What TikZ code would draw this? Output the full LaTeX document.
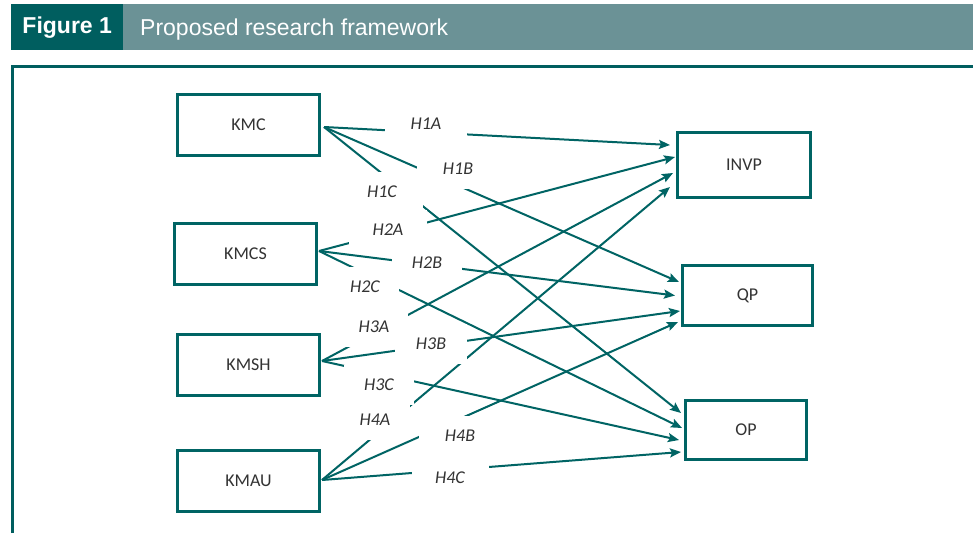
\documentclass[tikz,border=0pt]{standalone}
\usepackage{fontspec}
\setmainfont{Carlito}
\newfontfamily\hdrfont{Liberation Sans}
\usetikzlibrary{arrows.meta,calc}
\definecolor{tealdark}{RGB}{0,94,95}
\definecolor{teallight}{RGB}{107,146,150}
\definecolor{tealline}{RGB}{0,100,100}
\definecolor{txtgray}{RGB}{51,51,51}
\begin{document}
\begin{tikzpicture}[x=1pt,y=-1pt,
  varbox/.style={draw=tealline,line width=3pt,minimum width=142pt,minimum height=61pt,inner sep=0pt,
    font=\fontsize{18}{20}\selectfont,text=txtgray},
  hyp/.style={fill=white,inner sep=0pt,minimum height=40pt,
    font=\fontsize{18}{20}\selectfont\itshape,text=txtgray},
  link/.style={draw=tealline,line width=2pt,-{Stealth[length=11pt,width=9pt,inset=2pt]}},
  hdrtext/.style={text=white,inner sep=0pt,font=\hdrfont\fontsize{23}{26}\selectfont},
]
\useasboundingbox (0,0) rectangle (973,533);
\fill[white] (0,0) rectangle (973,533);
% header
\node[fill=tealdark,minimum width=112pt,minimum height=46pt,inner sep=0pt,anchor=north west,
  hdrtext,font=\hdrfont\bfseries\fontsize{23}{26}\selectfont] (hdrfig) at (11,4) {Figure 1};
\node[fill=teallight,minimum width=850pt,minimum height=46pt,inner sep=0pt,anchor=north west] (hdrbar) at (123,4) {};
\node[hdrtext,anchor=base west] (hdrtitle) at (140,35) {Proposed research framework};
% frame
\draw[tealdark,line width=3pt] (12.5,533) -- (12.5,66.5) -- (973,66.5);
% boxes
\node[varbox] (KMC)  at (248.5,125) {KMC};
\node[varbox] (KMCS) at (245.5,254) {KMCS};
\node[varbox] (KMSH) at (248.5,365) {KMSH};
\node[varbox] (KMAU) at (248.5,481) {KMAU};
\node[varbox,minimum width=133pt,minimum height=65pt] (INVP) at (744,165) {INVP};
\node[varbox,minimum width=130pt,minimum height=60pt] (QP) at (747.5,295.5) {QP};
\node[varbox,minimum width=121pt,minimum height=59pt] (OP) at (746,430) {OP};
% links
\draw[link] ($(KMC.east)+(3,2)$) -- ($(INVP.west)+(-6,-20)$);
\draw[link] ($(KMC.east)+(3,2)$) -- ($(QP.west)+(-2,-13.5)$);
\draw[link] ($(KMC.east)+(3,2)$) -- ($(OP.west)+(-3,-17)$);
\draw[link] ($(KMCS.east)+(1,-3)$) -- ($(INVP.west)+(-1,-8)$);
\draw[link] ($(KMCS.east)+(1,-3)$) -- ($(QP.west)+(-6,0)$);
\draw[link] ($(KMCS.east)+(1,-3)$) -- ($(OP.west)+(-2,-2)$);
\draw[link] ($(KMSH.east)+(1,-4)$) -- ($(INVP.west)+(-3,8)$);
\draw[link] ($(KMSH.east)+(1,-4)$) -- ($(QP.west)+(-1,15.5)$);
\draw[link] ($(KMSH.east)+(1,-4)$) -- ($(OP.west)+(-5,10)$);
\draw[link] ($(KMAU.east)+(1,-1)$) -- ($(INVP.west)+(-6,22)$);
\draw[link] ($(KMAU.east)+(1,-1)$) -- ($(QP.west)+(-3,26.5)$);
\draw[link] ($(KMAU.east)+(1,-1)$) -- ($(OP.west)+(-3,22)$);
% labels
\node[hyp,minimum width=82pt] (h1a) at (426,124) {H1A};
\node[hyp,minimum width=82pt] (h1b) at (458,169) {H1B};
\node[hyp,minimum width=82pt] (h1c) at (382,192) {H1C};
\node[hyp,minimum width=78pt] (h2a) at (388,230) {H2A};
\node[hyp,minimum width=70pt] (h2b) at (427,263) {H2B};
\node[hyp,minimum width=68pt] (h2c) at (365,287) {H2C};
\node[hyp,minimum width=68pt] (h3a) at (374,327) {H3A};
\node[hyp,minimum width=72pt] (h3b) at (431,344) {H3B};
\node[hyp,minimum width=70pt] (h3c) at (379,385) {H3C};
\node[hyp,minimum width=70pt] (h4a) at (375,420) {H4A};
\node[hyp,minimum width=82pt] (h4b) at (460,436) {H4B};
\node[hyp,minimum width=77pt] (h4c) at (450,478) {H4C};
\end{tikzpicture}
\end{document}
